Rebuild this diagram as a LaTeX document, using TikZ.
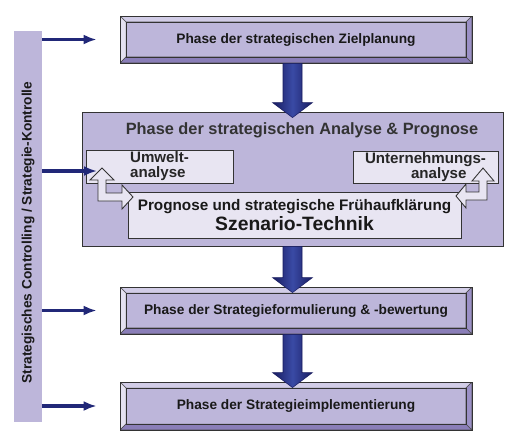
\documentclass[tikz,border=0pt]{standalone}
\usepackage{fontspec}
\setmainfont{Liberation Sans}
\usetikzlibrary{arrows.meta,positioning,calc}

\definecolor{lav}{RGB}{189,182,218}
\definecolor{lavlight}{RGB}{232,229,242}
\definecolor{bevtop}{RGB}{210,205,231}
\definecolor{bevleft}{RGB}{228,225,240}
\definecolor{bevbottom}{RGB}{138,126,184}
\definecolor{bevright}{RGB}{155,144,198}
\definecolor{navy}{RGB}{33,40,120}
\definecolor{navydark}{RGB}{24,28,96}
\definecolor{navylight}{RGB}{58,74,165}

\tikzset{
  phasebox/.style={draw=black!80, line width=0.5pt, fill=lav, minimum width=7.04cm, minimum height=0.94cm,
    font=\bfseries\fontsize{7.8}{9}\selectfont, text=black!90,
    path picture={
      \coordinate (nw) at (path picture bounding box.north west);
      \coordinate (ne) at (path picture bounding box.north east);
      \coordinate (sw) at (path picture bounding box.south west);
      \coordinate (se) at (path picture bounding box.south east);
      \coordinate (inw) at ($(nw)+(0.12cm,-0.12cm)$);
      \coordinate (ine) at ($(ne)+(-0.12cm,-0.12cm)$);
      \coordinate (isw) at ($(sw)+(0.12cm,0.12cm)$);
      \coordinate (ise) at ($(se)+(-0.12cm,0.12cm)$);
      \filldraw[fill=bevtop, draw=black!70, line width=0.3pt] (nw) -- (ne) -- (ine) -- (inw) -- cycle;
      \filldraw[fill=bevleft, draw=black!70, line width=0.3pt] (nw) -- (inw) -- (isw) -- (sw) -- cycle;
      \filldraw[fill=bevbottom, draw=black!70, line width=0.3pt] (sw) -- (isw) -- (ise) -- (se) -- cycle;
      \filldraw[fill=bevright, draw=black!70, line width=0.3pt] (ne) -- (se) -- (ise) -- (ine) -- cycle;
      \draw[black!80, line width=0.5pt] (inw) rectangle (ise);
    }},
  innerbox/.style={draw=black!80, line width=0.5pt, fill=lavlight, inner sep=0pt,
    font=\bfseries\fontsize{8.6}{8.5}\selectfont, text=black!85},
  ctrlarrow/.style={navy, line width=0.07cm, -{Latex[length=0.26cm,width=0.2cm]}},
  bigarrow/.style={draw=navydark, line width=0.3pt, left color=navydark, right color=navydark, middle color=navylight},
  hollowarrow/.style={draw=black!80, line width=0.5pt, fill=lavlight, line join=miter}
}

\begin{document}
\begin{tikzpicture}[x=0.02cm, y=-0.02cm]
  \useasboundingbox (0,0) rectangle (519,444);

  % controlling bar
  \node[fill=lav, minimum width=0.56cm, minimum height=7.82cm, inner sep=0pt] (bar) at (28,226.5) {};
  \node[rotate=90, font=\bfseries\fontsize{7.8}{9}\selectfont, text=black!90] (bartext) at (28,232.5)
    {Strategisches Controlling / Strategie-Kontrolle};

  % phases
  \node[phasebox] (ziel) at (296,39.5) {Phase der strategischen Zielplanung};
  \node[draw=black!80, line width=0.5pt, fill=lav, minimum width=8.42cm, minimum height=2.68cm] (analyse) at (292.5,179) {};
  \node[font=\bfseries\fontsize{9.3}{11}\selectfont, text=black!80] (analysetitle) at (302,130)
    {Phase der strategischen Analyse \& Prognose};
  \node[innerbox, minimum width=2.94cm, minimum height=0.66cm, align=left] (umwelt) at (159.5,166.5)
    {Umwelt-\\analyse};
  \node[innerbox, minimum width=2.9cm, minimum height=0.64cm, align=left] (untern) at (425.5,167)
    {Unternehmungs-\\\hspace*{0.92cm}analyse};
  \node[innerbox, minimum width=6.66cm, minimum height=0.92cm, align=center, text=black!90] (prognose) at (294.5,215)
    {{\fontsize{8.7}{10}\selectfont Prognose und strategische Frühaufklärung}\\[1pt]
     {\fontsize{11}{12}\selectfont Szenario-Technik}};
  \node[phasebox] (formul) at (296,310.5) {Phase der Strategieformulierung \& -bewertung};
  \node[phasebox, minimum height=0.96cm] (impl) at (296,406) {Phase der Strategieimplementierung};

  % hollow double arrows
  \draw[hollowarrow] (102,168) -- (114,180) -- (106,180) -- (106,193) -- (122,193) -- (122,185) -- (133,197)
    -- (122,209) -- (122,201) -- (98,201) -- (98,180) -- (90,180) -- cycle;
  \draw[hollowarrow] (483,168) -- (494,181) -- (487,181) -- (487,200) -- (466,200) -- (466,208) -- (456,196)
    -- (466,184) -- (466,192) -- (479,192) -- (479,181) -- (472,181) -- cycle;

  % main flow
  \foreach \src/\dst in {ziel/analyse, analyse/formul, formul/impl} {
    \coordinate (s) at (\src.south -| analyse.center);
    \coordinate (t) at ($(\dst.north -| analyse.center)+(0,6)$);
    \shadedraw[bigarrow] ($(s)+(-9.5,0)$) -- ($(t)+(-9.5,-15)$) -- ($(t)+(-20,-15)$) -- (t)
      -- ($(t)+(20,-15)$) -- ($(t)+(9.5,-15)$) -- ($(s)+(9.5,0)$) -- cycle;
  }

  % controlling arrows
  \coordinate (umweltin) at (97,171);
  \draw[ctrlarrow, shorten >=0.46cm] (bar.east |- ziel.west) -- (ziel.west);
  \draw[ctrlarrow] (bar.east |- umweltin) -- (umweltin);
  \draw[ctrlarrow, shorten >=0.46cm] (bar.east |- formul.west) -- (formul.west);
  \draw[ctrlarrow, shorten >=0.46cm] (bar.east |- impl.west) -- (impl.west);
\end{tikzpicture}
\end{document}
